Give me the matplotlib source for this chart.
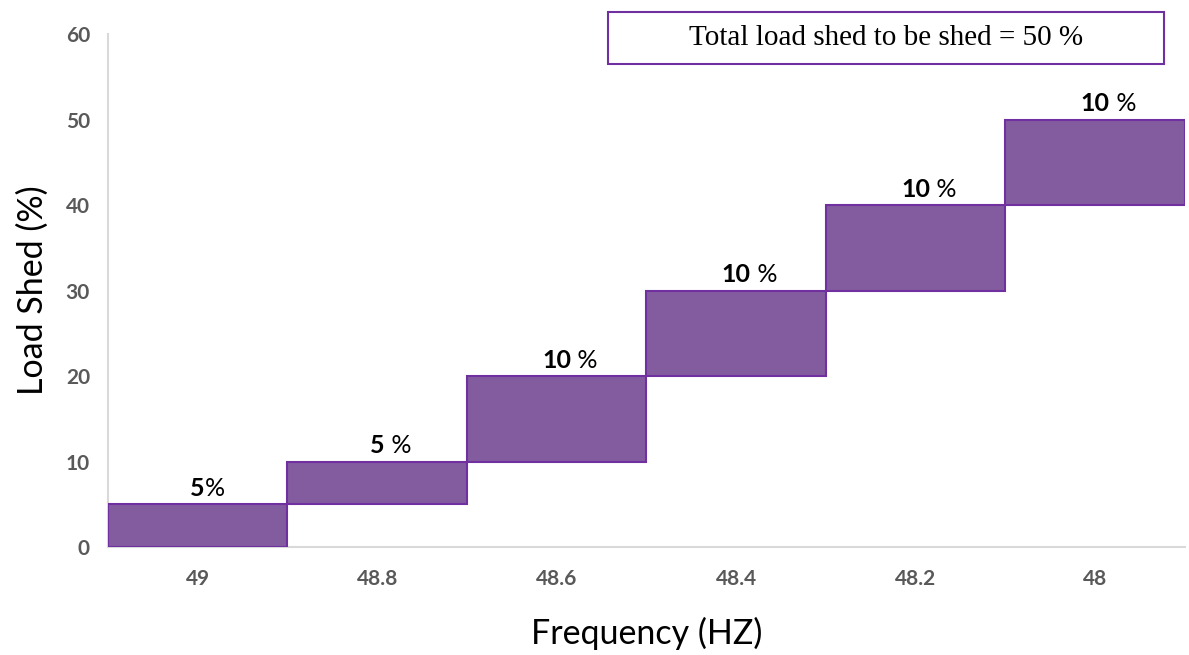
import matplotlib.pyplot as plt
from matplotlib.patches import Rectangle

freqs = ['49', '48.8', '48.6', '48.4', '48.2', '48']
base = [0, 5, 10, 20, 30, 40]
shed = [5, 5, 10, 10, 10, 10]
num_labels = ['5', '5', '10', '10', '10', '10']
pct_labels = ['%', ' %', ' %', ' %', ' %', ' %']

fig = plt.figure(figsize=(11.89, 6.55), dpi=100)
ax = fig.add_axes([0.0908, 0.1649, 0.9058, 0.7831])

x = list(range(len(freqs)))
ax.bar(x, shed, bottom=base, width=1.0, color='#835B9F',
       edgecolor='#7030A0', linewidth=1.5, zorder=3)

for i in x:
    t = ax.annotate(num_labels[i], xy=(i, base[i] + shed[i]), xytext=(0, 3),
                    textcoords='offset points', ha='center', va='bottom',
                    fontsize=18, fontweight='bold', family='Lato')
    ax.annotate(pct_labels[i], xy=(1, 0), xycoords=t, ha='left', va='bottom',
                fontsize=18, family='Lato')

ax.set_xlim(-0.5, 5.5)
ax.set_ylim(0, 60)
ax.set_yticks(range(0, 61, 10))
ax.set_xticks(x)
ax.set_xticklabels(freqs)
for lab in ax.get_xticklabels() + ax.get_yticklabels():
    lab.set_family('Lato')
    lab.set_fontweight('bold')
    lab.set_fontsize(15)
    lab.set_color('#595959')
ax.tick_params(length=0)
ax.tick_params(axis='x', pad=16)
ax.tick_params(axis='y', pad=13)

for s in ['top', 'right']:
    ax.spines[s].set_visible(False)
ax.spines['left'].set_color('#D9D9D9')
ax.spines['bottom'].set_color('#D9D9D9')
ax.spines['left'].set_linewidth(1.5)
ax.spines['bottom'].set_linewidth(1.5)

ax.set_xlabel('Frequency (HZ)', fontsize=24.5, family='Lato', labelpad=20)
ax.set_ylabel('Load Shed (%)', fontsize=24.5, family='Lato', labelpad=12)

fig.patches.append(Rectangle((608 / 1189, 1 - 64 / 655), 556 / 1189, 52 / 655,
                             transform=fig.transFigure, fill=False,
                             edgecolor='#7030A0', linewidth=1.5))
fig.text(886 / 1189, 1 - 38 / 655, 'Total load shed to be shed = 50 %',
         ha='center', va='center', fontsize=21, family='Liberation Serif')

fig.savefig('out.png', dpi=100)
